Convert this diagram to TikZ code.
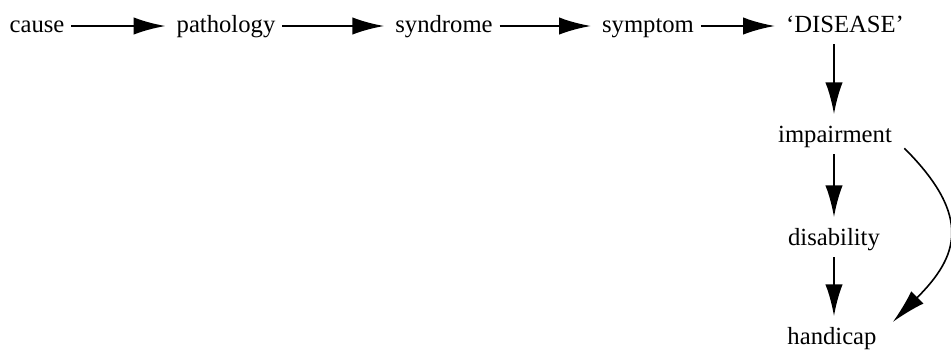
\documentclass[tikz,border=0pt]{standalone}
\usepackage{fontspec}
\setmainfont{Liberation Serif}
\usetikzlibrary{arrows.meta}

\begin{document}
\begin{tikzpicture}[
  x=0.75pt, y=-0.75pt,
  every node/.style={inner sep=0pt, text height=13pt, text depth=4pt,
    font=\fontsize{18.5}{21}\selectfont},
  flow/.style={line width=2pt, -{Latex[length=24pt, width=13pt]},
    shorten <=5pt, shorten >=8pt},
  down/.style={line width=2pt, -{Latex[length=24pt, width=13pt]},
    shorten <=5pt, shorten >=7.5pt},
  loop/.style={line width=1.2pt, -{Latex[length=26pt, width=13pt]},
    shorten <=13pt, shorten >=17pt}
]
\useasboundingbox (0,0) rectangle (951,351);

\node (cause)      at (37,26)   {cause};
\node (pathology)  at (226,26)  {pathology};
\node (syndrome)   at (444,26)  {syndrome};
\node (symptom)    at (648,26)  {symptom};
\node (disease)    at (845,26)  {`DISEASE'};
\node (impairment) at (835,136) {impairment};
\node (disability) at (834,239) {disability};
\node (handicap)   at (832,338) {handicap};

\draw[flow] (cause) -- (pathology);
\draw[flow] (pathology) -- (syndrome);
\draw[flow] (syndrome) -- (symptom);
\draw[flow] (symptom) -- (disease);

\draw[down] (disease.south -| disability) -- (impairment.north -| disability);
\draw[down] (impairment.south -| disability) -- (disability);
\draw[down] (disability) -- (handicap.north -| disability);

\draw[loop] (impairment.east) to[out=-45, in=45, looseness=1.45] (handicap.east);

\end{tikzpicture}
\end{document}
